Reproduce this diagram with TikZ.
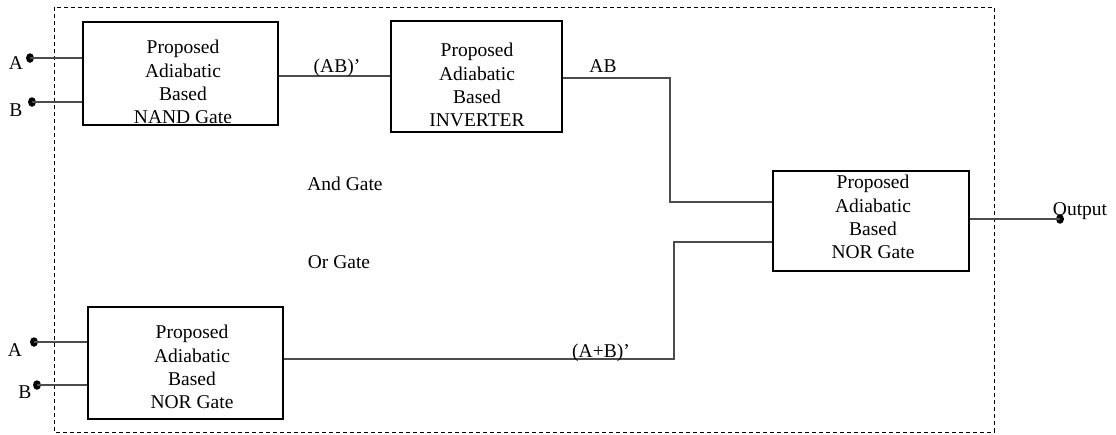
\documentclass[tikz,border=0pt]{standalone}
\usepackage{fontspec}
\usetikzlibrary{shapes.geometric}
\setmainfont{Liberation Serif}
\begin{document}
\begin{tikzpicture}[x=1pt,y=-1pt,
  gatebox/.style={draw=black,line width=1.8pt,inner sep=0pt},
  gtext/.style={align=center,inner sep=0pt,font=\fontsize{19.5}{23.2}\selectfont},
  lbl/.style={inner sep=0pt,font=\fontsize{19.5}{23.2}\selectfont},
  wire/.style={draw=black!70,line width=1.1pt},
  pin/.style={ellipse,fill=black,inner sep=0pt,minimum width=8pt,minimum height=9.5pt}]
\useasboundingbox (0,0) rectangle (1116,434);
% frame
\draw[black,line width=0.8pt,dash pattern=on 4pt off 3pt] (54,7) rectangle (994,432);
% boxes
\node[gatebox,minimum width=195pt,minimum height=103pt] (nand) at (180.5,73.5) {};
\node[gatebox,minimum width=171pt,minimum height=111pt] (inv) at (476.5,76.5) {};
\node[gatebox,minimum width=196pt,minimum height=100pt] (nor2) at (871,221) {};
\node[gatebox,minimum width=195pt,minimum height=112pt] (nor1) at (185.5,363) {};
% box texts
\node[gtext] (tnand) at (183,82) {Proposed\\Adiabatic\\Based\\NAND Gate};
\node[gtext] (tinv) at (477,85) {Proposed\\Adiabatic\\Based\\INVERTER};
\node[gtext] (tnor2) at (873,217) {Proposed\\Adiabatic\\Based\\NOR Gate};
\node[gtext] (tnor1) at (192,367) {Proposed\\Adiabatic\\Based\\NOR Gate};
% input pins
\node[pin] (a1) at (30,58) {};
\node[pin] (b1) at (32,102) {};
\node[pin] (a2) at (34,342) {};
\node[pin] (b2) at (37,385) {};
\node[lbl] (la1) at (16,63) {A};
\node[lbl] (lb1) at (16,110) {B};
\node[lbl] (la2) at (15,350) {A};
\node[lbl] (lb2) at (25,392) {B};
% output pin
\node[pin] (out) at (1060,219) {};
\node[lbl] (lout) at (1080,211) {Output};
% corner coordinates
\coordinate (c1) at (670,78);
\coordinate (c2) at (670,202);
\coordinate (c3) at (674,359);
\coordinate (c4) at (674,242);
% wires
\draw[wire] (a1.center) -- (nand.west |- a1);
\draw[wire] (b1.center) -- (nand.west |- b1);
\draw[wire] (a2.center) -- (nor1.west |- a2);
\draw[wire] (b2.center) -- (nor1.west |- b2);
\draw[wire] (nand.east |- 0,76) -- (inv.west |- 0,76);
\draw[wire] (inv.east |- c1) -- (c1) -- (c2) -- (nor2.west |- c2);
\draw[wire] (nor1.east |- c3) -- (c3) -- (c4) -- (nor2.west |- c4);
\draw[wire] (nor2.east |- out) -- (out.center);
% wire labels
\node[lbl] (lab) at (337,68) {(AB)’};
\node[lbl] (lab2) at (603,66) {AB};
\node[lbl] (lapb) at (601,353) {(A+B)’};
\node[lbl] (land) at (345,184) {And Gate};
\node[lbl] (lor) at (339,262) {Or Gate};
\end{tikzpicture}
\end{document}
